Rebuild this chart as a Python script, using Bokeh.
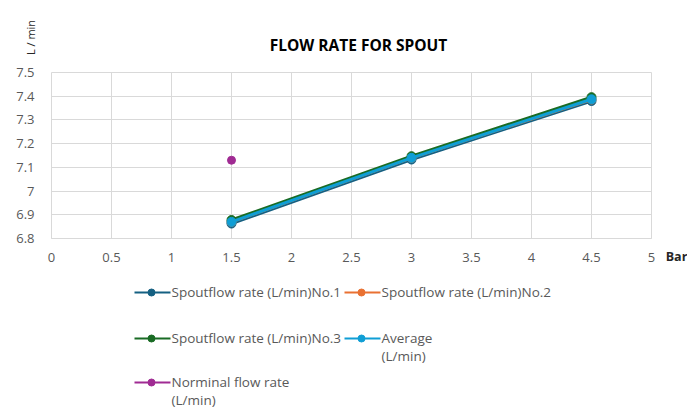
import math
from bokeh.plotting import figure
from bokeh.models import Range1d, FixedTicker, CustomJSTickFormatter
from bokeh.layouts import column, row
from bokeh.embed import file_html
from bokeh.resources import INLINE
from bokeh.core.properties import value

# ---- data ----
pressure = [1.5, 3.0, 4.5]
no1 = [6.863, 7.133, 7.380]
no2 = [6.870, 7.140, 7.386]
no3 = [6.878, 7.147, 7.396]
average = [6.870, 7.140, 7.387]
nominal_x = [1.5]
nominal_y = [7.13]

series_names = ["Spoutflow rate (L/min)No.1", "Spoutflow rate (L/min)No.2",
                "Spoutflow rate (L/min)No.3", "Average\n(L/min)",
                "Norminal flow rate\n(L/min)"]
series_colors = ["#156082", "#E97132", "#196B24", "#0F9ED5", "#A02B93"]

x_ticks = [0, 0.5, 1, 1.5, 2, 2.5, 3, 3.5, 4, 4.5, 5]
y_ticks = [6.8, 6.9, 7.0, 7.1, 7.2, 7.3, 7.4, 7.5]

title_text = "FLOW RATE FOR SPOUT"
y_title = "L / min"
x_title = "Bar"

FONT = "Open Sans"
TXT = "#595959"
DARK = "#262626"
GRID = "#d9d9d9"

W = 687
H_HEAD = 60
H_MAIN = 207
H_LEG = 141
W_BAR = 24
B_TOP, B_BOT = 12, 26


def blank(width, height):
    f = figure(width=width, height=height, output_backend="svg", toolbar_location=None,
               x_range=Range1d(0, width), y_range=Range1d(0, height),
               x_axis_type=None, y_axis_type=None, min_border=0)
    f.outline_line_color = None
    f.xgrid.visible = False
    f.ygrid.visible = False
    return f


# ---- header: title and y-axis title ----
head = blank(W, H_HEAD)
head.text([358], [H_HEAD - 44], text=[title_text], text_font=value(FONT),
          text_font_style="bold", text_font_size="15.5px", text_color="#000000",
          text_align="center", text_baseline="middle")
head.text([30], [H_HEAD - 37], text=[y_title], text_font=value(FONT),
          text_font_size="11px", text_color=DARK, angle=math.pi / 2,
          text_align="center", text_baseline="middle")

# ---- main chart ----
p = figure(width=W - W_BAR, height=H_MAIN, output_backend="svg", toolbar_location=None,
           x_range=Range1d(0, 5), y_range=Range1d(6.8, 7.5),
           min_border_left=51, min_border_right=12, min_border_top=B_TOP, min_border_bottom=B_BOT)
p.outline_line_color = GRID

fmt = CustomJSTickFormatter(code="return String(Number(tick.toFixed(2)));")
p.xaxis.ticker = FixedTicker(ticks=x_ticks)
p.yaxis.ticker = FixedTicker(ticks=y_ticks)
p.xaxis.formatter = fmt
p.yaxis.formatter = fmt
for ax in (p.xaxis, p.yaxis):
    ax.major_tick_line_color = None
    ax.minor_tick_line_color = None
    ax.major_label_text_font = FONT
    ax.major_label_text_font_size = "13px"
    ax.major_label_text_color = TXT
p.xaxis.axis_line_color = GRID
p.yaxis.axis_line_color = None
p.xaxis.major_label_standoff = 8
p.yaxis.major_label_standoff = 11
p.xgrid.grid_line_color = GRID
p.ygrid.grid_line_color = GRID
p.xgrid.ticker = FixedTicker(ticks=x_ticks)
p.ygrid.ticker = FixedTicker(ticks=y_ticks)

for ys, c in zip([no1, no2, no3, average], series_colors[:4]):
    p.line(pressure, ys, line_color=c, line_width=3)
    p.scatter(pressure, ys, size=9, fill_color=c, line_color=c)
p.scatter(nominal_x, nominal_y, size=8, fill_color=series_colors[4], line_color=series_colors[4])

# ---- x-axis title to the right, drawn as an axis label at tick level ----
bar = figure(width=W_BAR, height=H_MAIN, output_backend="svg", toolbar_location=None,
             x_range=Range1d(0, W_BAR), y_range=Range1d(0, 1), y_axis_type=None,
             min_border_left=0, min_border_right=0, min_border_top=B_TOP, min_border_bottom=B_BOT)
bar.outline_line_color = None
bar.xgrid.visible = False
bar.ygrid.visible = False
bar.xaxis.ticker = FixedTicker(ticks=[13])
bar.xaxis.major_label_overrides = {13: x_title}
bar.xaxis.axis_line_color = None
bar.xaxis.major_tick_line_color = None
bar.xaxis.minor_tick_line_color = None
bar.xaxis.major_label_standoff = 3
bar.xaxis.major_label_text_font = FONT
bar.xaxis.major_label_text_font_size = "12.5px"
bar.xaxis.major_label_text_font_style = "bold"
bar.xaxis.major_label_text_color = DARK

# ---- legend panel ----
q = blank(W, H_LEG)
col_x = [134, 344]
row_y = [25, 71, 115]
for i, (name, c) in enumerate(zip(series_names, series_colors)):
    x0 = col_x[i % 2]
    y0 = row_y[i // 2]
    q.line([x0, x0 + 36], [H_LEG - y0, H_LEG - y0], line_color=c, line_width=2)
    q.scatter([x0 + 17], [H_LEG - y0], size=7, fill_color=c, line_color=c)
    q.text([x0 + 37], [H_LEG - y0 + 10], text=[name], text_font=value(FONT),
           text_font_size="13.5px", text_color=TXT, text_baseline="top",
           text_align="left", text_line_height=1.0)

layout = column(head, row(p, bar, spacing=0), q, spacing=0)
open("out.html", "w").write(file_html(layout, INLINE))
